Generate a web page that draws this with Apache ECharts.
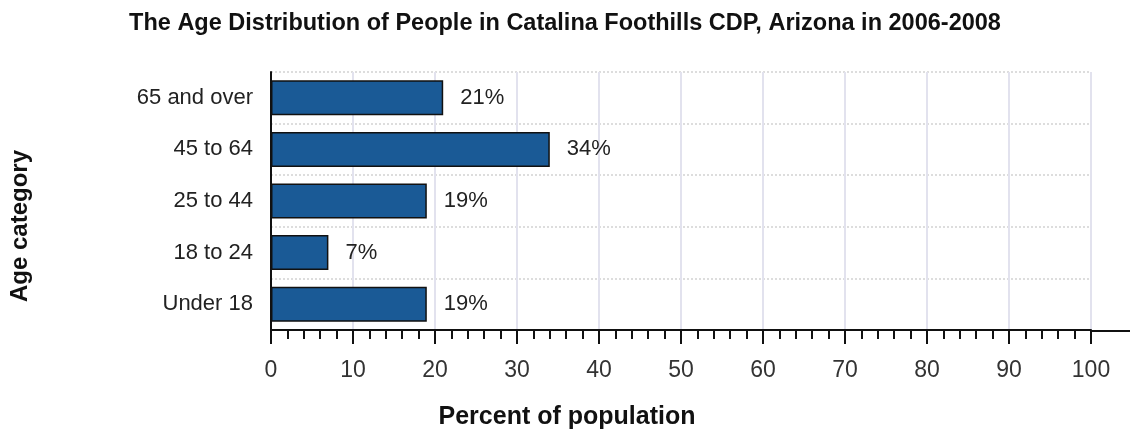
<!DOCTYPE html>
<html>
<head>
<meta charset="utf-8">
<script src="https://cdn.jsdelivr.net/npm/echarts@6/dist/echarts.min.js"></script>
<style>
  html, body { margin: 0; padding: 0; background: #fff; }
  #chart { width: 1130px; height: 435px; }
</style>
</head>
<body>
<div id="chart"></div>
<script>
// age categories, bottom to top
const categories = ["Under 18", "18 to 24", "25 to 44", "45 to 64", "65 and over"];
// percent of population
const percents = [19, 7, 19, 34, 21];
const xTicks = [0, 10, 20, 30, 40, 50, 60, 70, 80, 90, 100];

const chart = echarts.init(document.getElementById("chart"));
const font = "Arial, 'Liberation Sans', sans-serif";

const option = {
  backgroundColor: "#fff",
  animation: false,
  title: {
    text: "The Age Distribution of People in Catalina Foothills CDP, Arizona in 2006-2008",
    left: "center",
    top: 7,
    textStyle: { fontFamily: font, fontSize: 23.5, fontWeight: "bold", color: "#111" },
  },
  grid: { left: 271, right: 39, top: 72, bottom: 104 },
  xAxis: {
    type: "value",
    min: xTicks[0],
    max: xTicks[xTicks.length - 1],
    interval: 10,
    name: "Percent of population",
    nameLocation: "middle",
    nameGap: 75,
    nameTextStyle: {
      fontFamily: font, fontSize: 25, fontWeight: "bold", color: "#111",
      // shift the name to the centre of the whole figure
      padding: [0, 228, 0, 0],
    },
    axisLine: { show: true, lineStyle: { color: "#111", width: 2 } },
    axisTick: { show: true, length: 14, lineStyle: { color: "#111", width: 2 } },
    minorTick: { show: true, splitNumber: 5, length: 9, lineStyle: { color: "#111", width: 2 } },
    axisLabel: { fontFamily: font, fontSize: 23, color: "#333", margin: 29 },
    splitLine: { show: true, lineStyle: { color: "#e2e2ee", width: 2 } },
  },
  yAxis: {
    type: "category",
    data: categories,
    name: "Age category",
    nameLocation: "middle",
    nameGap: 239,
    nameRotate: 90,
    nameTextStyle: {
      fontFamily: font, fontSize: 24, fontWeight: "bold", color: "#111",
      padding: [0, 50, 0, 0],
    },
    axisLine: { show: true, lineStyle: { color: "#111", width: 2 } },
    axisTick: { show: false },
    axisLabel: { fontFamily: font, fontSize: 22, color: "#222", margin: 18 },
    splitLine: { show: true, lineStyle: { color: "#ddd", width: 2, type: [2, 2] } },
  },
  series: [
    {
      type: "bar",
      data: percents,
      barWidth: 35,
      itemStyle: { color: "#1a5a96", borderColor: "#111", borderWidth: 1.5 },
      label: {
        show: true,
        position: "right",
        distance: 17,
        formatter: "{c}%",
        fontFamily: font,
        fontSize: 22,
        color: "#222",
      },
    },
  ],
  graphic: [
    {
      type: "line",
      shape: { x1: 1090, y1: 331, x2: 1130, y2: 331 },
      style: { stroke: "#111", lineWidth: 2 },
    },
  ],
};

chart.setOption(option);
</script>
</body>
</html>
